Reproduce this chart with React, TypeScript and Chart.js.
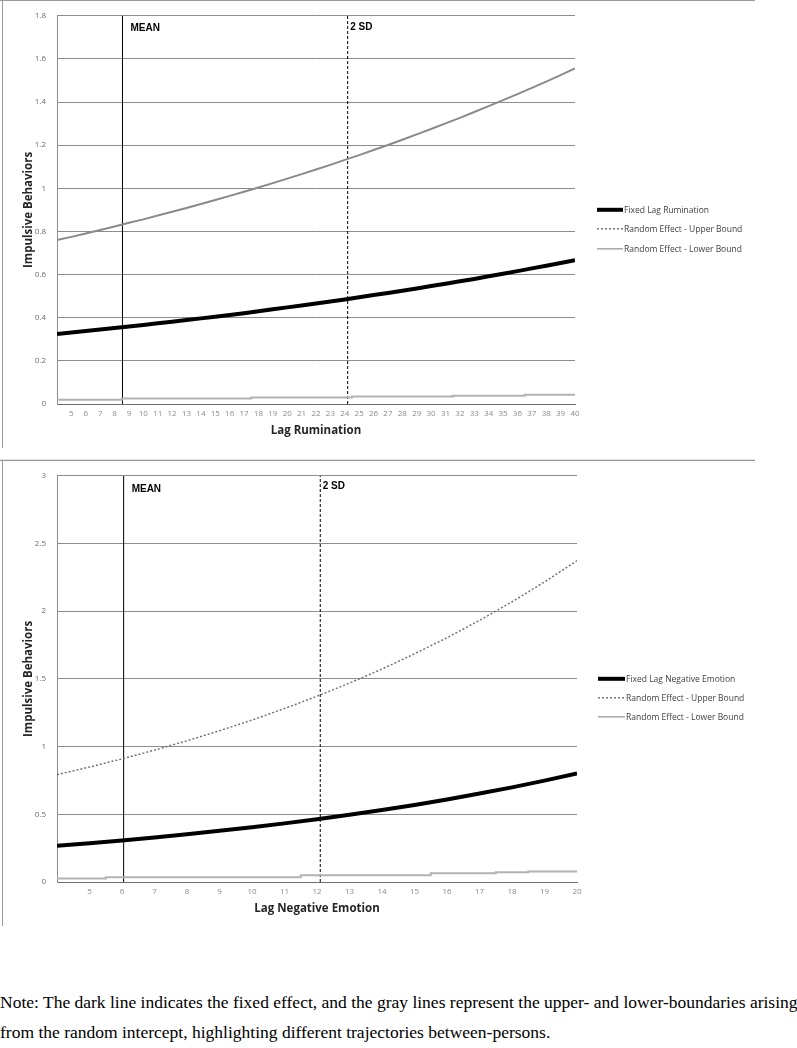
import React, { useEffect, useRef } from 'react';
import { Chart, registerables } from 'chart.js';

Chart.register(...registerables);

// ---------- data: top panel (Lag Rumination) ----------
const topX = [4, 5, 6, 7, 8, 9, 10, 11, 12, 13, 14, 15, 16, 17, 18, 19, 20, 21, 22, 23, 24, 25, 26, 27, 28, 29, 30, 31, 32, 33, 34, 35, 36, 37, 38, 39, 40];
const topFixed = [0.325, 0.332, 0.338, 0.345, 0.352, 0.359, 0.366, 0.374, 0.381, 0.389, 0.397, 0.405, 0.413, 0.421, 0.43, 0.439, 0.448, 0.457, 0.466, 0.475, 0.485, 0.495, 0.505, 0.515, 0.525, 0.536, 0.547, 0.558, 0.569, 0.58, 0.592, 0.604, 0.616, 0.629, 0.641, 0.654, 0.667];
const topUpper = [0.76, 0.775, 0.791, 0.807, 0.823, 0.84, 0.856, 0.874, 0.891, 0.909, 0.927, 0.946, 0.965, 0.984, 1.004, 1.024, 1.045, 1.066, 1.087, 1.109, 1.132, 1.154, 1.178, 1.201, 1.225, 1.25, 1.275, 1.301, 1.327, 1.354, 1.381, 1.409, 1.437, 1.466, 1.495, 1.525, 1.556];
const topLower = [0.02, 0.02, 0.02, 0.02, 0.02, 0.025, 0.025, 0.025, 0.025, 0.025, 0.025, 0.025, 0.025, 0.025, 0.03, 0.03, 0.03, 0.03, 0.03, 0.03, 0.03, 0.035, 0.035, 0.035, 0.035, 0.035, 0.035, 0.035, 0.038, 0.038, 0.038, 0.038, 0.038, 0.043, 0.043, 0.043, 0.043];
const topMean = 8.55;
const topSD = 24.2;
const topLegend = ['Fixed Lag Rumination', 'Random Effect - Upper Bound', 'Random Effect - Lower Bound'];

// ---------- data: bottom panel (Lag Negative Emotion) ----------
const botX = [4, 5, 6, 7, 8, 9, 10, 11, 12, 13, 14, 15, 16, 17, 18, 19, 20];
const botFixed = [0.268, 0.287, 0.307, 0.329, 0.353, 0.378, 0.404, 0.433, 0.464, 0.497, 0.532, 0.569, 0.61, 0.653, 0.699, 0.749, 0.802];
const botUpper = [0.793, 0.849, 0.909, 0.974, 1.043, 1.117, 1.196, 1.281, 1.372, 1.469, 1.573, 1.685, 1.804, 1.932, 2.069, 2.216, 2.373];
const botLower = [0.025, 0.025, 0.035, 0.035, 0.035, 0.035, 0.035, 0.035, 0.05, 0.05, 0.05, 0.05, 0.065, 0.065, 0.072, 0.078, 0.078];
const botMean = 6.05;
const botSD = 12.1;
const botLegend = ['Fixed Lag Negative Emotion', 'Random Effect - Upper Bound', 'Random Effect - Lower Bound'];

const yTitle = 'Impulsive Behaviors';

Chart.defaults.font.family = '"Open Sans", "Noto Sans", sans-serif';

const overlayPlugin = {
  id: 'overlay',
  afterDatasetsDraw(chart: any, _args: any, opts: any) {
    const { ctx, chartArea } = chart;
    const x = chart.scales.x;
    ctx.save();
    // MEAN / 2 SD labels
    ctx.font = 'bold 10px "Liberation Sans", Arial, sans-serif';
    ctx.fillStyle = '#000';
    ctx.textBaseline = 'middle';
    ctx.textAlign = 'left';
    (opts.markers || []).forEach((m: any) => {
      ctx.fillText(m.label, x.getPixelForValue(m.value) + m.dx, chartArea.top + m.dy);
    });
    // legend
    const lg = opts.legend;
    ctx.font = '8.5px "Open Sans", "Noto Sans", sans-serif';
    lg.items.forEach((it: any, i: number) => {
      const y = chartArea.top + lg.y[i];
      const x0 = chartArea.right + lg.x0;
      const x1 = chartArea.right + lg.x1;
      ctx.beginPath();
      ctx.setLineDash(it.dash || []);
      ctx.lineWidth = it.width;
      ctx.strokeStyle = it.color;
      ctx.moveTo(x0, y);
      ctx.lineTo(x1, y);
      ctx.stroke();
      ctx.setLineDash([]);
      ctx.fillStyle = '#404040';
      ctx.fillText(it.text, x1 + 1, y + 0.5);
    });
    ctx.restore();
  },
};

type PanelOpts = {
  xs: number[];
  fixed: number[];
  upper: number[];
  lower: number[];
  yMax: number;
  yStep: number;
  xTitle: string;
  legend: string[];
  mean: number;
  sd: number;
  upperDash: number[];
  upperColor: string;
  upperWidth: number;
  canvasW: number;
  plotRight: number;
  axisHeight: number;
  xTitlePad: number;
  legendY: number[];
  legendX0: number;
  legendX1: number;
  meanDy: number;
  sdDy: number;
};

function buildConfig(o: PanelOpts): any {
  const pts = (arr: number[]) => o.xs.map((x, i) => ({ x, y: arr[i] }));
  return {
    type: 'line',
    data: {
      datasets: [
        { label: o.legend[0], data: pts(o.fixed), borderColor: '#000000', borderWidth: 4, pointRadius: 0, tension: 0 },
        { label: o.legend[1], data: pts(o.upper), borderColor: o.upperColor, borderWidth: o.upperWidth, borderDash: o.upperDash, pointRadius: 0 },
        { label: o.legend[2], data: pts(o.lower), borderColor: '#b2b2b2', borderWidth: 2, pointRadius: 0, stepped: 'middle' },
        { label: 'MEAN', data: [{ x: o.mean, y: 0 }, { x: o.mean, y: o.yMax }], borderColor: '#000000', borderWidth: 1, pointRadius: 0 },
        { label: '2 SD', data: [{ x: o.sd, y: 0 }, { x: o.sd, y: o.yMax }], borderColor: '#000000', borderWidth: 1, borderDash: [3, 2], pointRadius: 0 },
      ],
    },
    options: {
      animation: false,
      responsive: false,
      events: [],
      layout: { padding: { left: 0, top: 13, right: o.canvasW - o.plotRight, bottom: 0 } },
      plugins: {
        legend: { display: false },
        tooltip: { enabled: false },
        overlay: {
          markers: [
            { label: 'MEAN', value: o.mean, dx: 8, dy: o.meanDy },
            { label: '2 SD', value: o.sd, dx: 2.5, dy: o.sdDy },
          ],
          legend: {
            x0: o.legendX0,
            x1: o.legendX1,
            y: o.legendY,
            items: [
              { text: o.legend[0], color: '#000000', width: 4 },
              { text: o.legend[1], color: '#777777', width: 1.5, dash: [2, 2] },
              { text: o.legend[2], color: '#a8a8a8', width: 1.5 },
            ],
          },
        },
      },
      scales: {
        x: {
          type: 'linear',
          min: o.xs[0],
          max: o.xs[o.xs.length - 1],
          afterFit: (s: any) => { s.height = o.axisHeight; },
          grid: { display: false, drawTicks: false },
          border: { display: true, color: '#6f6f6f', width: 1 },
          ticks: {
            stepSize: 1,
            autoSkip: false,
            maxRotation: 0,
            minRotation: 0,
            padding: 5,
            color: '#8a8a8a',
            font: { size: 8 },
            callback: (v: any) => (v === o.xs[0] ? '' : String(v)),
          },
          title: {
            display: true,
            text: o.xTitle,
            color: '#262626',
            font: { size: 11.5, weight: 'bold' },
            padding: { top: 0, bottom: o.xTitlePad },
          },
        },
        y: {
          type: 'linear',
          min: 0,
          max: o.yMax,
          afterFit: (s: any) => { s.width = 57; },
          grid: { color: '#8c8c8c', lineWidth: 1, drawTicks: false },
          border: { display: true, color: '#8c8c8c', width: 1 },
          ticks: {
            stepSize: o.yStep,
            padding: 11,
            color: '#6a6a6a',
            font: { size: 8 },
            callback: (v: any) => String(Math.round(Number(v) * 10) / 10),
          },
          title: {
            display: true,
            text: yTitle,
            color: '#262626',
            font: { size: 11.5, weight: 'bold' },
            padding: { top: 22, bottom: 0 },
          },
        },
      },
    },
    plugins: [overlayPlugin],
  };
}

function Panel({ cfg, w, h, top }: { cfg: any; w: number; h: number; top: number }) {
  const ref = useRef<HTMLCanvasElement>(null);
  useEffect(() => {
    const chart = new Chart(ref.current as HTMLCanvasElement, cfg);
    return () => chart.destroy();
  }, []);
  return (
    <canvas
      ref={ref}
      width={w}
      height={h}
      style={{ position: 'absolute', left: 0, top, width: w, height: h }}
    />
  );
}

const line = (s: React.CSSProperties) => <div style={{ position: 'absolute', ...s }} />;

export default function App() {
  const topCfg = buildConfig({
    xs: topX, fixed: topFixed, upper: topUpper, lower: topLower,
    yMax: 1.8, yStep: 0.2, xTitle: 'Lag Rumination', legend: topLegend,
    mean: topMean, sd: topSD, upperDash: [], upperColor: '#8a8a8a', upperWidth: 2,
    canvasW: 760, plotRight: 575, axisHeight: 41, xTitlePad: 7,
    legendY: [194, 213, 233], legendX0: 22, legendX1: 48, meanDy: 12, sdDy: 11,
  });
  const botCfg = buildConfig({
    xs: botX, fixed: botFixed, upper: botUpper, lower: botLower,
    yMax: 3, yStep: 0.5, xTitle: 'Lag Negative Emotion', legend: botLegend,
    mean: botMean, sd: botSD, upperDash: [2, 2], upperColor: '#737373', upperWidth: 1.5,
    canvasW: 760, plotRight: 577, axisHeight: 38, xTitlePad: 4,
    legendY: [203, 222, 241], legendX0: 21, legendX1: 48, meanDy: 13, sdDy: 10,
  });
  return (
    <div style={{ position: 'absolute', left: 0, top: 0, width: 797, height: 1048, overflow: 'hidden', background: '#fff' }}>
      <Panel cfg={topCfg} w={760} h={445} top={0} />
      <Panel cfg={botCfg} w={760} h={460} top={460} />
      {line({ left: 0, top: 0, width: 755, height: 1, background: '#9a9a9a' })}
      {line({ left: 2, top: 0, width: 1, height: 448, background: '#9a9a9a' })}
      {line({ left: 0, top: 459, width: 755, height: 1, background: '#e2e2e2' })}
      {line({ left: 0, top: 460, width: 755, height: 1, background: '#9a9a9a' })}
      {line({ left: 2, top: 460, width: 1, height: 466, background: '#9a9a9a' })}
      <div
        style={{
          position: 'absolute',
          left: 0,
          top: 987,
          fontFamily: '"Liberation Serif", "Times New Roman", serif',
          fontSize: 17.5,
          lineHeight: '30px',
          whiteSpace: 'nowrap',
          color: '#000',
        }}
      >
        Note: The dark line indicates the fixed effect, and the gray lines represent the upper- and lower-boundaries arising
        <br />
        from the random intercept, highlighting different trajectories between-persons.
      </div>
    </div>
  );
}
